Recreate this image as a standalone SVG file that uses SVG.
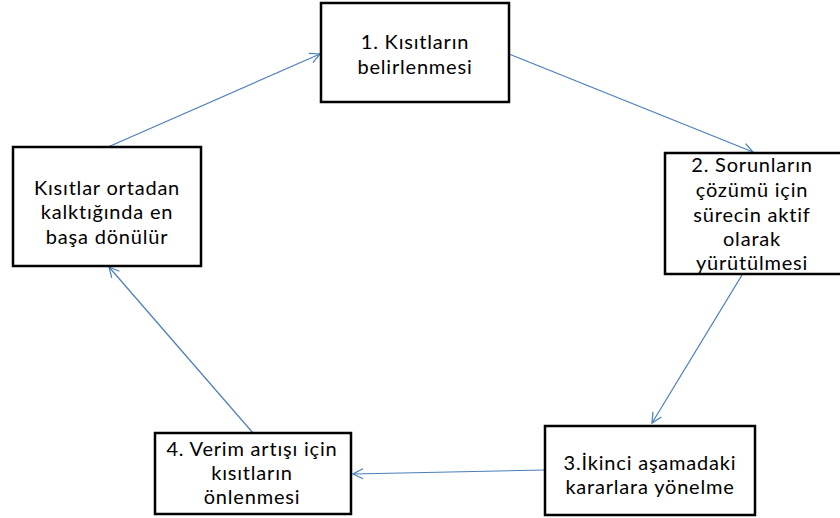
<svg xmlns="http://www.w3.org/2000/svg" width="840" height="518" viewBox="0 0 840 518">
  <style>
    .box { fill: #ffffff; stroke: #000000; stroke-width: 2.5; }
    .lbl { font-family: Lato, "Open Sans", "DejaVu Sans", sans-serif; font-size: 20px; letter-spacing: 0.8px; fill: #000000; text-anchor: middle; }
    .link { fill: none; stroke: #4a7ebb; stroke-width: 1.2; marker-end: url(#arr); }
  </style>
  <defs>
    <marker id="arr" viewBox="0 0 12 12" refX="11" refY="6" markerWidth="12" markerHeight="12" markerUnits="userSpaceOnUse" orient="auto">
      <path d="M1,1 L11,6 L1,11" fill="none" stroke="#4a7ebb" stroke-width="1.2"/>
    </marker>
  </defs>
  <rect width="840" height="518" fill="#ffffff"/>

  <g id="connectors">
    <line class="link" x1="509" y1="54" x2="753" y2="152"/>
    <line class="link" x1="756" y1="252" x2="652" y2="423"/>
    <line class="link" x1="545" y1="470" x2="353" y2="474"/>
    <line class="link" x1="253" y1="433" x2="109" y2="267"/>
    <line class="link" x1="108" y1="147" x2="320" y2="54"/>
  </g>

  <g id="step1">
    <rect class="box" x="321" y="3" width="188" height="99"/>
    <text class="lbl" x="415" y="49">1. Kısıtların</text>
    <text class="lbl" x="415" y="74">belirlenmesi</text>
  </g>

  <g id="step2">
    <rect class="box" x="665" y="153" width="178" height="121"/>
    <text class="lbl" x="752" y="172">2. Sorunların</text>
    <text class="lbl" x="752" y="197">çözümü için</text>
    <text class="lbl" x="752" y="222">sürecin aktif</text>
    <text class="lbl" x="752" y="246">olarak</text>
    <text class="lbl" x="752" y="270">yürütülmesi</text>
  </g>

  <g id="step3">
    <rect class="box" x="545" y="426" width="210" height="89"/>
    <text class="lbl" x="650" y="470">3.İkinci aşamadaki</text>
    <text class="lbl" x="650" y="494">kararlara yönelme</text>
  </g>

  <g id="step4">
    <rect class="box" x="155" y="433" width="196" height="81"/>
    <text class="lbl" x="252" y="456">4. Verim artışı için</text>
    <text class="lbl" x="252" y="480">kısıtların</text>
    <text class="lbl" x="252" y="504">önlenmesi</text>
  </g>

  <g id="restart">
    <rect class="box" x="13" y="147" width="188" height="119"/>
    <text class="lbl" x="107" y="195">Kısıtlar ortadan</text>
    <text class="lbl" x="107" y="219">kalktığında en</text>
    <text class="lbl" x="107" y="244">başa dönülür</text>
  </g>
</svg>
